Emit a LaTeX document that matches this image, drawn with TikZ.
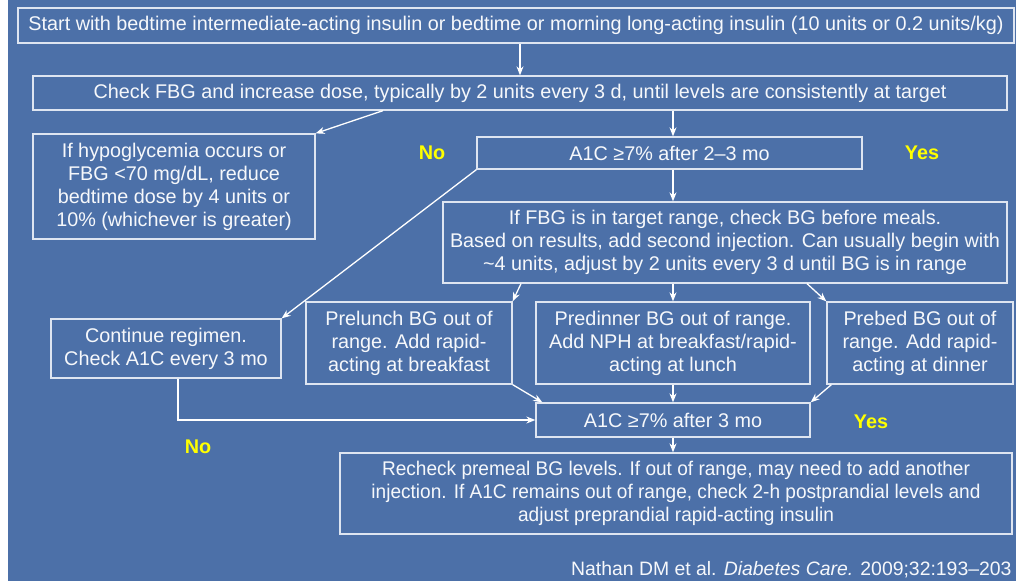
\documentclass[tikz,border=0pt]{standalone}
\usepackage{fontspec}
\setmainfont{Liberation Sans}
\newfontfamily\narrowfont{Liberation Sans}[FakeStretch=0.963]
\usetikzlibrary{arrows.meta}
\definecolor{slideblue}{RGB}{76,112,168}
\definecolor{boxline}{RGB}{222,229,241}
\definecolor{answeryellow}{RGB}{255,255,0}

\begin{document}
\begin{tikzpicture}[x=1pt,y=-1pt]

% Definitions
\tikzstyle{Box} = [rectangle, draw=boxline, line width=1.3pt, text=white!95!slideblue, align=center, inner sep=0pt, font=\fontsize{19.8}{23}\selectfont]
\tikzstyle{arrow} = [white, line width=1.3pt, ->, >={Stealth[length=9pt,width=7pt]}]
\tikzstyle{Answer} = [text=answeryellow, font=\fontsize{19.8}{23}\selectfont\bfseries]

\useasboundingbox (0,0) rectangle (1016,581);
\fill[slideblue] (8,0) rectangle (1016,581);
\coordinate (axis) at (673,0);

\node (start) [Box, minimum width=996pt, minimum height=35pt] at (516,25.5) {Start with bedtime intermediate-acting insulin or bedtime or morning long-acting insulin (10 units or 0.2 units/kg)};
\node (check) [Box, minimum width=974pt, minimum height=34pt] at (520,93) {Check FBG and increase dose, typically by 2 units every 3 d, until levels are consistently at target};
\node (hypo) [Box, minimum width=282pt, minimum height=105pt] at (174,186.5) {If hypoglycemia occurs or\\FBG <70 mg/dL, reduce\\bedtime dose by 4 units or\\10\% (whichever is greater)};
\node (afirst) [Box, minimum width=385pt, minimum height=32pt] at (669.5,153) {A1C ≥7\% after 2--3 mo};
\node (nofirst) [Answer] at (432,153) {No};
\node (yesfirst) [Answer] at (922,153) {Yes};
\node (meals) [Box, minimum width=564pt, minimum height=81pt] at (725,242.5) {If FBG is in target range, check BG before meals.\\Based on results, add second injection. Can usually begin with\\\textasciitilde4 units, adjust by 2 units every 3 d until BG is in range};
\node (continue) [Box, minimum width=230pt, minimum height=59pt] at (166,348.5) {Continue regimen.\\Check A1C every 3 mo};
\node (prelunch) [Box, minimum width=206pt, minimum height=82pt] at (409,343) {Prelunch BG out of\\range. Add rapid-\\acting at breakfast};
\node (predinner) [Box, minimum width=274pt, minimum height=82pt] at (673,343) {Predinner BG out of range.\\Add NPH at breakfast/rapid-\\acting at lunch};
\node (prebed) [Box, minimum width=186pt, minimum height=82pt] at (920,343) {Prebed BG out of\\range. Add rapid-\\acting at dinner};
\node (asecond) [Box, minimum width=274pt, minimum height=34pt] at (673,420) {A1C ≥7\% after 3 mo};
\node (nosecond) [Answer] at (198,447) {No};
\node (yessecond) [Answer] at (871,422) {Yes};
\node (recheck) [Box, minimum width=672pt, minimum height=81pt, font=\fontsize{19.8}{23}\selectfont\narrowfont] at (676,493.5) {Recheck premeal BG levels. If out of range, may need to add another\\injection. If A1C remains out of range, check 2-h postprandial levels and\\adjust preprandial rapid-acting insulin};
\node (cite) [anchor=east, text=white!95!slideblue, font=\fontsize{19.4}{22}\selectfont] at (1015,570) {Nathan DM et al. \textit{Diabetes Care.} 2009;32:193--203};

\draw [arrow] (start.south -| check.north) -- (check.north);
\draw [arrow] ([xshift=-137pt]check.south) -- (hypo.north east);
\draw [arrow] (check.south -| axis) -- (afirst.north -| axis);
\draw [arrow] (afirst.south west) -- (continue.north east);
\draw [arrow] (afirst.south -| axis) -- (meals.north -| axis);
\draw [arrow] ([xshift=-204pt]meals.south) -- (prelunch.north east);
\draw [arrow] (meals.south -| axis) -- (predinner.north);
\draw [arrow] ([xshift=82pt]meals.south) -- (prebed.north west);
\draw [arrow] (prelunch.south east) -- ([xshift=7pt]asecond.north west);
\draw [arrow] (predinner.south) -- (asecond.north);
\draw [arrow] ([xshift=5pt]prebed.south west) -- (asecond.north east);
\draw [arrow] ([xshift=12pt]continue.south) |- (asecond.west);
\draw [arrow] (asecond.south) -- (asecond.south |- recheck.north);

\end{tikzpicture}
\end{document}
